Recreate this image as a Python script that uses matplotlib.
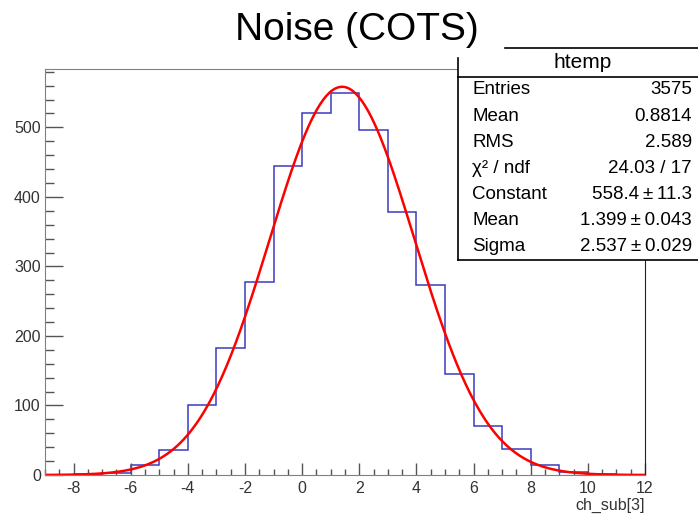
import numpy as np
import matplotlib.pyplot as plt
from matplotlib.patches import Rectangle
from matplotlib.lines import Line2D
from matplotlib.ticker import MultipleLocator

plt.rcParams['font.family'] = ['Liberation Sans', 'DejaVu Sans']
plt.rcParams['axes.unicode_minus'] = False

# histogram contents (unit bins from -9 to 12)
edges = np.arange(-9, 13, 1)
counts = [0, 1, 3, 15, 36, 100, 182, 277, 445, 521, 549,
          496, 379, 273, 145, 70, 38, 15, 5, 1, 0]

# gaussian fit parameters from the stats box
fit_const = 558.4
fit_mean = 1.399
fit_sigma = 2.537

pm = '\u2009±\u2009'
stat_names = ['Entries', 'Mean', 'RMS', 'χ² / ndf', 'Constant', 'Mean', 'Sigma']
stat_values = ['3575', '0.8814', '2.589', '24.03 / 17',
               '558.4' + pm + '11.3', '1.399' + pm + '0.043', '2.537' + pm + '0.029']

W, H = 698, 514
fig = plt.figure(figsize=(W / 100, H / 100), dpi=100)

def fx(px):
    return px / W

def fy(py):
    return 1 - py / H

ax = fig.add_axes([fx(45), fy(475), fx(645) - fx(45), fy(69) - fy(475)])

ax.stairs(counts, edges, color='#3a3ac0', lw=1.1)
xf = np.linspace(-9, 12, 400)
ax.plot(xf, fit_const * np.exp(-0.5 * ((xf - fit_mean) / fit_sigma) ** 2),
        color='red', lw=1.8)

ax.set_xlim(-9, 12)
ax.set_ylim(0, 584)
ax.xaxis.set_major_locator(MultipleLocator(2))
ax.xaxis.set_minor_locator(MultipleLocator(0.5))
ax.yaxis.set_major_locator(MultipleLocator(100))
ax.yaxis.set_minor_locator(MultipleLocator(20))
ax.tick_params(axis='y', which='major', direction='in', length=13, width=1,
               color='#555555', labelsize=11.5, labelcolor='#333333', pad=3)
ax.tick_params(axis='y', which='minor', direction='in', length=6.5, width=1,
               color='#555555')
ax.tick_params(axis='x', which='major', direction='in', length=9, width=1,
               color='#555555', labelsize=11.5, labelcolor='#333333', pad=4)
ax.tick_params(axis='x', which='minor', direction='in', length=4.5, width=1,
               color='#555555')
for s in ['left', 'bottom', 'top']:
    ax.spines[s].set_color('#808080')
ax.spines['right'].set_color('#222222')

fig.text(fx(645), fy(505), 'ch_sub[3]', ha='right', va='center',
         fontsize=11.5, color='#333333')
fig.text(fx(357), fy(30), 'Noise (COTS)', ha='center', va='center',
         fontsize=28, color='black')

# stats box
fig.add_artist(Rectangle((fx(458), fy(260)), fx(698) - fx(458), fy(58) - fy(260),
                         transform=fig.transFigure, facecolor='white',
                         edgecolor='none', zorder=5))
for xs, ys in [((458, 458), (58, 260)), ((458, 698), (260, 260)),
               ((458, 698), (77, 77)), ((505, 698), (48, 48))]:
    fig.add_artist(Line2D([fx(xs[0]), fx(xs[1])], [fy(ys[0]), fy(ys[1])],
                          transform=fig.transFigure, color='black', lw=1.2,
                          zorder=6))
fig.text(fx(583), fy(63), 'htemp', ha='center', va='center', fontsize=15, zorder=7)
for i, (name, val) in enumerate(zip(stat_names, stat_values)):
    yc = 90 + 26.1 * i
    fig.text(fx(472), fy(yc), name, ha='left', va='center', fontsize=13.5, zorder=7)
    fig.text(fx(692), fy(yc), val, ha='right', va='center', fontsize=13.5, zorder=7)

fig.savefig('out.png', dpi=100)
